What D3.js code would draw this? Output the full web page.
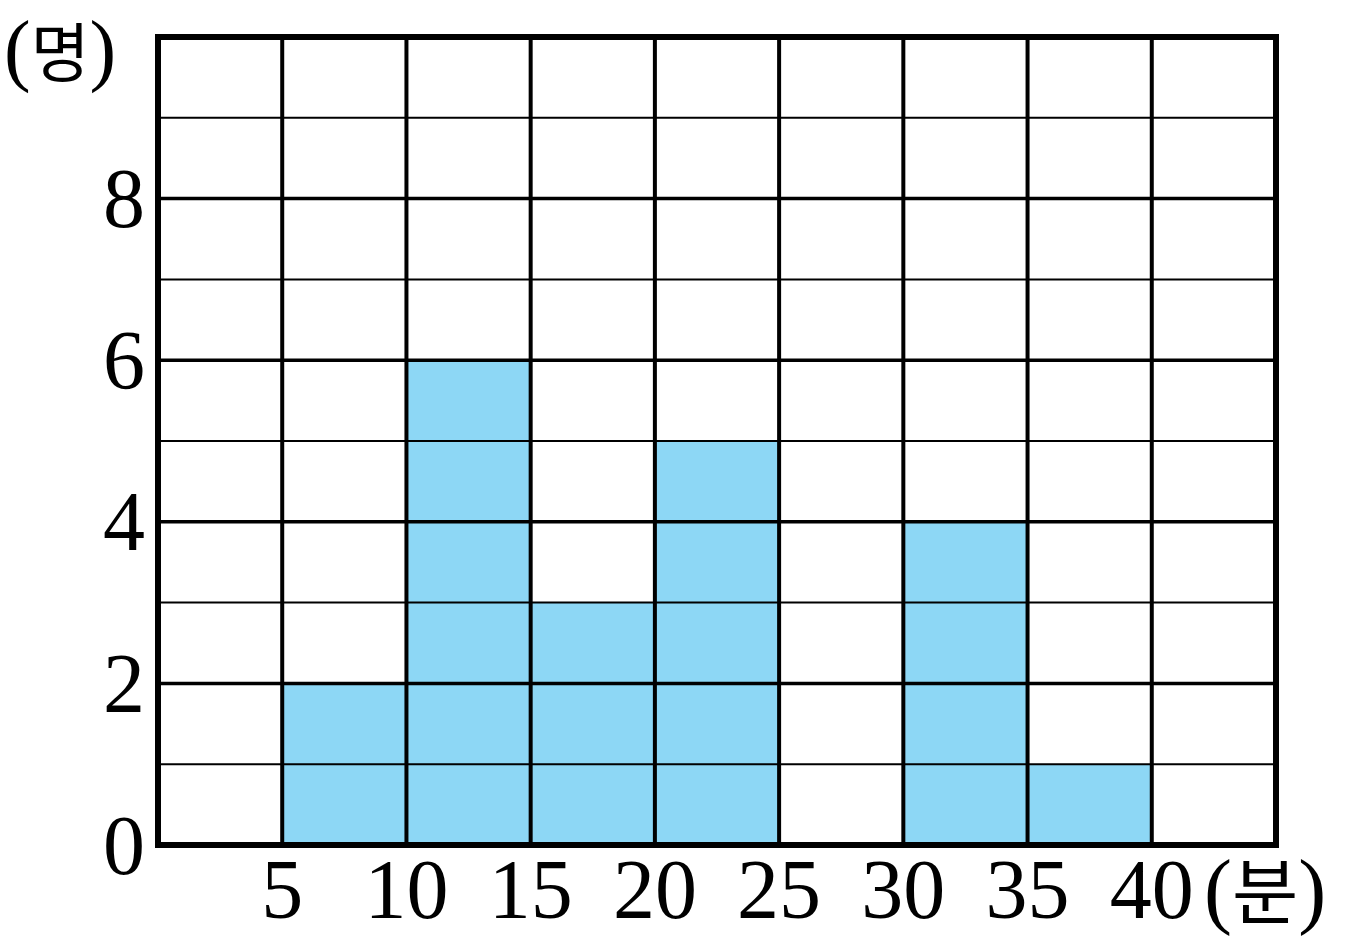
<!DOCTYPE html>
<html><head><meta charset="utf-8">
<script src="https://cdn.jsdelivr.net/npm/d3@7"></script>
<style>html,body{margin:0;padding:0;background:#fff;}</style>
</head><body>
<svg id="c" width="1349" height="949"></svg>
<script>
const binStarts = [0, 5, 10, 15, 20, 25, 30, 35, 40];
const counts    = [0, 2, 6, 3, 5, 0, 4, 1, 0];
const xTickLabels = [5, 10, 15, 20, 25, 30, 35, 40];
const yTickLabels = [0, 2, 4, 6, 8];
const xUnit = "(분)";
const yUnit = "(명)";

const svg = d3.select("#c");
const L = 158, R = 1276, T = 37, B = 845;
const x = d3.scaleLinear().domain([0, 45]).range([L, R]);
const y = d3.scaleLinear().domain([0, 10]).range([B, T]);
const fill = "#8dd7f5";
const serif = "'Liberation Serif','DejaVu Serif',serif";
const fs = 84;

// bars
svg.append("g").selectAll("rect").data(binStarts.map((s,i)=>({s, c:counts[i]})).filter(d=>d.c>0))
  .join("rect")
  .attr("x", d => x(d.s)).attr("width", d => x(d.s+5)-x(d.s))
  .attr("y", d => y(d.c)).attr("height", d => y(0)-y(d.c))
  .attr("fill", fill);

// horizontal grid
const g = svg.append("g");
d3.range(1, 10).forEach(v => {
  g.append("line").attr("x1", L).attr("x2", R).attr("y1", y(v)).attr("y2", y(v))
    .attr("stroke", "#000").attr("stroke-width", v % 2 === 0 ? 3.5 : 2);
});
// vertical grid
d3.range(5, 45, 5).forEach(v => {
  g.append("line").attr("x1", x(v)).attr("x2", x(v)).attr("y1", T).attr("y2", B)
    .attr("stroke", "#000").attr("stroke-width", 4);
});
// border
svg.append("rect").attr("x", L).attr("y", T).attr("width", R-L).attr("height", B-T)
  .attr("fill", "none").attr("stroke", "#000").attr("stroke-width", 6);

// y labels
svg.append("g").selectAll("text").data(yTickLabels).join("text")
  .attr("x", 145).attr("y", d => y(d)).attr("dy", "0.34em")
  .attr("text-anchor", "end").attr("font-family", serif).attr("font-size", fs)
  .text(d => d);

// x labels
svg.append("g").selectAll("text").data(xTickLabels).join("text")
  .attr("x", d => x(d)).attr("y", 918)
  .attr("text-anchor", "middle").attr("font-family", serif).attr("font-size", fs)
  .text(d => d);

// units
function unit(txt, xPos, yPos, pSize, hSize) {
  const t = svg.append("text").attr("x", xPos).attr("y", yPos).attr("font-size", pSize);
  t.append("tspan").attr("font-family", serif).text("(");
  t.append("tspan").attr("font-family", "'Noto Sans CJK KR',sans-serif").attr("font-size", hSize).text(txt.slice(1, -1));
  t.append("tspan").attr("font-family", serif).text(")");
}
unit(yUnit, 4, 76, 80, 64);
unit(xUnit, 1204, 918, 84, 72);
</script>
</body></html>
